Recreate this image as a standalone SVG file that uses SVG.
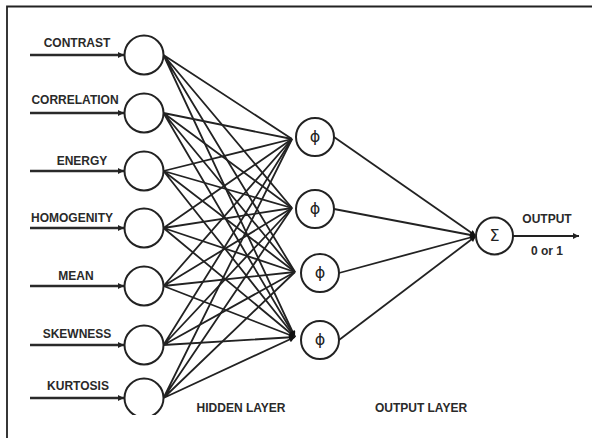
<svg xmlns="http://www.w3.org/2000/svg" width="592" height="438" viewBox="0 0 592 438">
  <defs>
    <style>
      .frame { stroke: #222; stroke-width: 1.8; fill: none; }
      .node { fill: #fff; stroke: #222; stroke-width: 2; }
      .edge { stroke: #222; stroke-width: 1.8; fill: none; }
      .in { stroke: #2a2a2a; stroke-width: 2.4; fill: none; }
      .lbl { font-family: "Liberation Sans", Arial, sans-serif; font-weight: bold; font-size: 12px; fill: #2a2a2a; text-anchor: middle; }
      .sym { font-family: "DejaVu Sans", sans-serif; font-size: 16px; fill: #222; text-anchor: middle; }
    </style>
    <marker id="head" viewBox="0 0 10 10" refX="10" refY="5" markerWidth="8" markerHeight="6" markerUnits="userSpaceOnUse" orient="auto">
      <path d="M0,0 L10,5 L0,10 z" fill="#222"/>
    </marker>
    <marker id="tip" viewBox="0 0 10 10" refX="10" refY="5" markerWidth="7" markerHeight="6" markerUnits="userSpaceOnUse" orient="auto">
      <path d="M0,0 L10,5 L0,10 z" fill="#111"/>
    </marker>
    <clipPath id="cut">
      <rect x="0" y="0" width="592" height="415"/>
    </clipPath>
  </defs>

  <rect width="592" height="438" fill="#fff"/>
  <!-- frame: top and left rules -->
  <path class="frame" d="M7,438 V6.5 H592"/>

  <!-- connectors -->
  <g id="connectors">
    <!-- input arrows -->
    <g class="in" marker-end="url(#head)">
      <line x1="30" y1="55" x2="124" y2="55"/>
      <line x1="30" y1="113" x2="124" y2="113"/>
      <line x1="30" y1="171" x2="124" y2="171"/>
      <line x1="30" y1="228" x2="124" y2="228"/>
      <line x1="30" y1="286" x2="124" y2="286"/>
      <line x1="30" y1="345" x2="124" y2="345"/>
      <line x1="30" y1="398" x2="124" y2="398"/>
    </g>
    <!-- input layer to hidden layer -->
    <g class="edge" marker-end="url(#tip)">
      <path d="M163.5,55 L292,139 M163.5,55 L292,208 M163.5,55 L295,272 M163.5,55 L295,337"/>
      <path d="M163.5,113 L292,139 M163.5,113 L292,208 M163.5,113 L295,272 M163.5,113 L295,337"/>
      <path d="M163.5,171 L292,139 M163.5,171 L292,208 M163.5,171 L295,272 M163.5,171 L295,337"/>
      <path d="M163.5,228 L292,139 M163.5,228 L292,208 M163.5,228 L295,272 M163.5,228 L295,337"/>
      <path d="M163.5,286 L292,139 M163.5,286 L292,208 M163.5,286 L295,272 M163.5,286 L295,337"/>
      <path d="M163.5,345 L292,139 M163.5,345 L292,208 M163.5,345 L295,272 M163.5,345 L295,337"/>
      <path d="M163.5,398 L292,139 M163.5,398 L292,208 M163.5,398 L295,272 M163.5,398 L295,337"/>
    </g>
    <!-- hidden layer to output -->
    <g class="edge" marker-end="url(#tip)">
      <path d="M334,137 L476,236"/>
      <path d="M334,209 L476,236"/>
      <path d="M339,273 L476,236"/>
      <path d="M339,340 L476,236"/>
    </g>
    <!-- output arrow -->
    <line class="edge" x1="513" y1="236" x2="579" y2="236" marker-end="url(#head)"/>
  </g>

  <!-- input nodes -->
  <g id="in-contrast">
    <circle class="node" cx="144" cy="55" r="19.5"/>
    <text class="lbl" x="77" y="47">CONTRAST</text>
  </g>
  <g id="in-correlation">
    <circle class="node" cx="144" cy="113" r="19.5"/>
    <text class="lbl" x="75" y="104">CORRELATION</text>
  </g>
  <g id="in-energy">
    <circle class="node" cx="144" cy="171" r="19.5"/>
    <text class="lbl" x="82" y="165">ENERGY</text>
  </g>
  <g id="in-homogenity">
    <circle class="node" cx="144" cy="228" r="19.5"/>
    <text class="lbl" x="72" y="222">HOMOGENITY</text>
  </g>
  <g id="in-mean">
    <circle class="node" cx="144" cy="286" r="19.5"/>
    <text class="lbl" x="76" y="280">MEAN</text>
  </g>
  <g id="in-skewness">
    <circle class="node" cx="144" cy="345" r="19.5"/>
    <text class="lbl" x="77" y="338">SKEWNESS</text>
  </g>
  <g id="in-kurtosis">
    <circle class="node" cx="144" cy="398" r="19.5" clip-path="url(#cut)"/>
    <text class="lbl" x="78" y="390">KURTOSIS</text>
  </g>

  <!-- hidden nodes -->
  <g id="hid-1">
    <circle class="node" cx="315" cy="137" r="19"/>
    <text class="sym" x="315" y="142">ϕ</text>
  </g>
  <g id="hid-2">
    <circle class="node" cx="315" cy="209" r="19"/>
    <text class="sym" x="315" y="214">ϕ</text>
  </g>
  <g id="hid-3">
    <circle class="node" cx="320" cy="273" r="19"/>
    <text class="sym" x="320" y="278">ϕ</text>
  </g>
  <g id="hid-4">
    <circle class="node" cx="320" cy="340" r="19"/>
    <text class="sym" x="320" y="345">ϕ</text>
  </g>

  <!-- output node -->
  <g id="out">
    <circle class="node" cx="494.5" cy="236" r="18.5"/>
    <text class="sym" x="494.5" y="241" font-size="14">Σ</text>
    <text class="lbl" x="547" y="223">OUTPUT</text>
    <text class="lbl" x="547" y="255" font-size="11">0 or 1</text>
  </g>

  <!-- layer captions -->
  <text class="lbl" x="241" y="412">HIDDEN LAYER</text>
  <text class="lbl" x="421" y="412">OUTPUT LAYER</text>
</svg>
